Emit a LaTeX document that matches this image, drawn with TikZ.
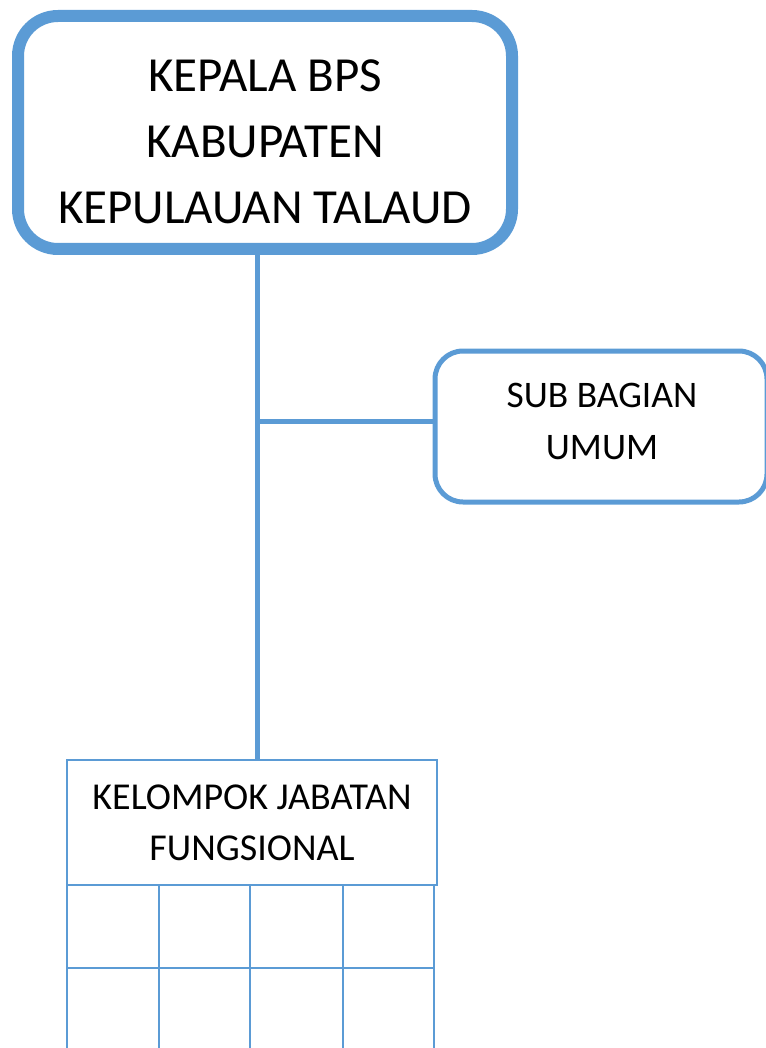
\documentclass[tikz,border=0pt]{standalone}
\usepackage{fontspec}
\setmainfont{Carlito}
\usetikzlibrary{positioning}
\definecolor{orgblue}{HTML}{5B9BD5}
\tikzset{
  headbox/.style={draw=orgblue,line width=12pt,rounded corners=40pt,fill=white},
  unitbox/.style={draw=orgblue,line width=5pt,rounded corners=28pt,fill=white},
  groupbox/.style={draw=orgblue,line width=2.5pt,fill=white,align=center,inner sep=0pt},
  orgline/.style={draw=orgblue,line width=5pt},
  gridline/.style={draw=orgblue,line width=2.5pt}
}
\begin{document}
\begin{tikzpicture}[x=1pt,y=-1pt]
\useasboundingbox (0,0) rectangle (765,1048);
% boxes
\node[headbox,minimum width=494pt,minimum height=233pt] (kepala) at (265,132.5) {};
\node[align=center,font=\fontsize{49}{66}\selectfont] (kepalatext) at (265,141.5)
  {KEPALA BPS\\KABUPATEN\\KEPULAUAN TALAUD};
\node[unitbox,minimum width=332pt,minimum height=151pt] (subbag) at (601,426.5) {};
\node[align=center,font=\fontsize{37.5}{52}\selectfont] (subbagtext) at (602,421)
  {SUB BAGIAN\\UMUM};
\node[groupbox,minimum width=370pt,minimum height=125pt,font=\fontsize{38}{51}\selectfont] (kjf) at (252,822.5)
  {KELOMPOK JABATAN\\FUNGSIONAL};
% connectors
\coordinate (trunk) at (257,421);
\draw[orgline] (kepala.south -| trunk) -- (kjf.north -| trunk);
\draw[orgline] (trunk) -- (trunk -| subbag.west);
% grid below the group box
\foreach \x in {67,159,250,343,434} \draw[gridline] (\x,885) -- (\x,1052);
\draw[gridline] (67,968) -- (434,968);
\end{tikzpicture}
\end{document}
